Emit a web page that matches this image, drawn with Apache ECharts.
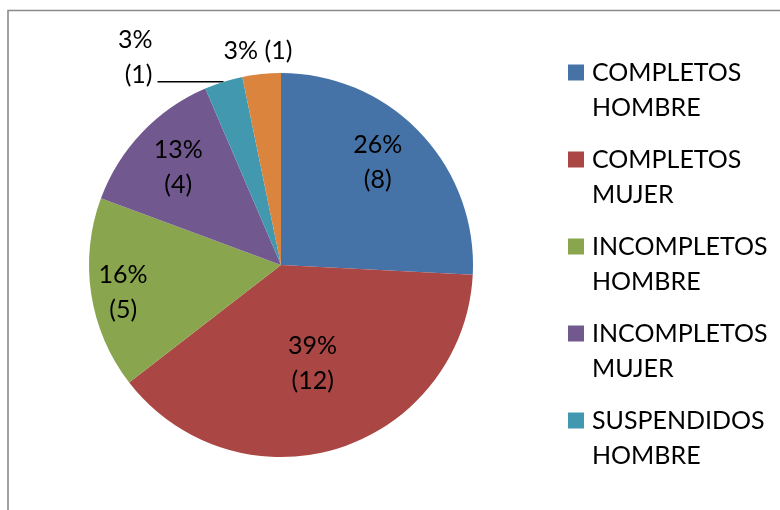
<!DOCTYPE html>
<html><head><meta charset="utf-8">
<script src="https://cdn.jsdelivr.net/npm/echarts@6/dist/echarts.min.js"></script>
<style>html,body{margin:0;padding:0;background:#fff}#c{width:780px;height:510px}</style>
</head><body><div id="c"></div>
<script>
const categories = ['COMPLETOS HOMBRE','COMPLETOS MUJER','INCOMPLETOS HOMBRE','INCOMPLETOS MUJER','SUSPENDIDOS HOMBRE','SUSPENDIDOS MUJER'];
const values = [8, 12, 5, 4, 1, 1];
const legendShown = ['COMPLETOS HOMBRE','COMPLETOS MUJER','INCOMPLETOS HOMBRE','INCOMPLETOS MUJER','SUSPENDIDOS HOMBRE'];
const colors = ['#4572A7','#AA4643','#89A54E','#71588F','#4198AF','#DB843D'];

const FONT = 'Lato';
const FS = 25;
const CX = 281, CY = 265, R = 192;
// label shifts (px) from the default inside position
const labelShift = [[25, -34], [2, 4], [-60, 12], [-31, -29], null, [-13, -116]];

const chart = echarts.init(document.getElementById('c'), null, {renderer: 'canvas'});
const data = categories.map((n, i) => {
  const d = {name: n, value: values[i], itemStyle: {color: colors[i]}};
  if (i === 4) {
    d.label = {position: 'outside'};
    d.labelLine = {show: true, length: 0, length2: 66, smooth: false,
      lineStyle: {color: '#000', width: 1.5}};
  }
  return d;
});
chart.setOption({
  animation: false,
  graphic: [{type: 'rect', shape: {x: 8, y: 10.5, width: 900, height: 700},
    style: {fill: 'none', stroke: '#8a8a8a', lineWidth: 1.6}, silent: true}],
  legend: {
    orient: 'vertical', left: 568, top: 20, padding: 0,
    data: legendShown, icon: 'rect', itemWidth: 16, itemHeight: 16, itemGap: -18,
    formatter: n => '\n' + n.replace(' ', '\n'),
    textStyle: {fontFamily: FONT, fontSize: FS, color: '#000', lineHeight: 35, padding: [0, 0, 0, 3]}
  },
  series: [{
    type: 'pie', center: [CX, CY], radius: [0, R], startAngle: 90, clockwise: true,
    avoidLabelOverlap: false, silent: true,
    label: {
      show: true, position: 'inside', fontFamily: FONT, fontSize: FS, color: '#000', lineHeight: 35,
      rich: {
        a: {fontFamily: FONT, fontSize: FS, color: '#000', lineHeight: 35},
        e: {fontFamily: FONT, fontSize: FS, color: '#000', lineHeight: 49}
      },
      formatter: p => {
        const pct = Math.round(p.percent) + '%';
        if (p.dataIndex === 5) return pct + ' (' + p.value + ')';
        if (p.dataIndex === 4) return '{a|' + pct + '}\n{a|(' + p.value + ')}\n{e| }';
        return pct + '\n(' + p.value + ')';
      }
    },
    labelLine: {show: false},
    labelLayout: function (p) {
      const s = labelShift[p.dataIndex];
      if (!s) return {};
      const lx = p.labelRect.x + p.labelRect.width / 2;
      const ly = p.labelRect.y + p.labelRect.height / 2;
      return {x: lx + s[0], y: ly + s[1]};
    },
    data: data
  }]
});
</script></body></html>
